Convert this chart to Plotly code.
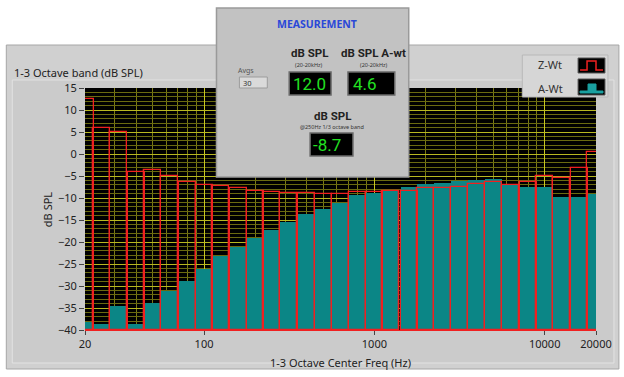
import math
import plotly.graph_objects as go

# ---------------- data ----------------
freqs = [20, 25, 31.5, 40, 50, 63, 80, 100, 125, 160, 200, 250, 315, 400, 500,
         630, 800, 1000, 1250, 1600, 2000, 2500, 3150, 4000, 5000, 6300, 8000,
         10000, 12500, 16000, 20000]
z_wt = [12.6, 5.9, 5.0, -4.2, -3.7, -5.1, -6.4, -7.1, -7.3, -7.8, -8.4, -8.7,
        -8.9, -8.9, -9.0, -9.1, -8.7, -8.7, -8.5, -8.3, -7.7, -7.7, -7.4, -6.8,
        -6.4, -7.0, -6.4, -5.1, -5.5, -3.2, 0.5]
a_wt = [-38.1, -38.7, -34.5, -38.7, -33.8, -31.1, -28.9, -26.1, -23.2, -21.2,
        -19.1, -17.3, -15.5, -13.6, -12.4, -11.1, -9.4, -8.9, -8.2, -7.4, -6.8,
        -6.6, -6.2, -6.0, -5.7, -6.8, -7.5, -7.5, -9.8, -9.8, -9.0]
tick_freqs = [20, 100, 1000, 10000, 20000]
tick_labels = ["20", "100", "1000", "10000", "20000"]
y_ticks = [15, 10, 5, 0, -5, -10, -15, -20, -25, -30, -35, -40]
meas_spl = "12.0"
meas_awt = "4.6"
meas_250 = "-8.7"

Y_MIN, Y_MAX = -40, 15
F_MIN, F_MAX = 20, 20000

# ---------------- geometry (pixels) ----------------
W, H = 624, 377
L, R, T, B = 85, 598, 88, 330


def px(x):
    return (x - L) / (R - L)


def py(y):
    return (B - y) / (B - T)


xs = [math.log10(f) for f in freqs]
band_w = math.log10(2) / 3
minor_freqs = [m * d for d in (10, 100, 1000) for m in range(2, 10) if m * d > 20]

TEAL = "#0b8686"
RED = "#f02020"

fig = go.Figure()
fig.add_trace(go.Bar(
    x=xs, y=[v - Y_MIN for v in a_wt], base=Y_MIN, width=band_w,
    marker=dict(color=TEAL, line=dict(width=0)), name="A-Wt",
    customdata=a_wt, hovertemplate="%{customdata} dB<extra>A-Wt</extra>",
))
fig.add_trace(go.Bar(
    x=xs, y=[v - Y_MIN for v in z_wt], base=Y_MIN, width=band_w,
    marker=dict(color="rgba(0,0,0,0)", line=dict(width=1.3, color=RED)), name="Z-Wt",
    customdata=z_wt, hovertemplate="%{customdata} dB<extra>Z-Wt</extra>",
))

FONT = "Noto Sans"
BFONT = "Roboto"
TXT = "#222222"

shapes = []
# graph panel
shapes.append(dict(type="rect", xref="paper", yref="paper", layer="below",
                   x0=px(6), x1=px(621), y0=py(369), y1=py(45),
                   fillcolor="#d0d0d0", line=dict(color="#a6a6a6", width=1)))
shapes.append(dict(type="rect", xref="paper", yref="paper", layer="below",
                   x0=px(12), x1=px(616), y0=py(363), y1=py(80),
                   fillcolor="#cbcbcb", line=dict(color="#e2e2e2", width=1)))
# black plot background
shapes.append(dict(type="rect", xref="x domain", yref="y domain", layer="below",
                   x0=0, x1=1, y0=0, y1=1, fillcolor="black", line=dict(width=0)))
# legend
shapes.append(dict(type="rect", xref="paper", yref="paper", layer="above",
                   x0=px(524), x1=px(610), y0=py(97), y1=py(55),
                   fillcolor="#d6d6d6", line=dict(color="#b8b8b8", width=1)))
shapes.append(dict(type="rect", xref="paper", yref="paper", layer="above",
                   x0=px(580), x1=px(607), y0=py(73), y1=py(58),
                   fillcolor="black", line=dict(color="#555555", width=1)))
shapes.append(dict(type="rect", xref="paper", yref="paper", layer="above",
                   x0=px(580), x1=px(607), y0=py(95), y1=py(79),
                   fillcolor="black", line=dict(color="#555555", width=1)))


def path(points, close=False):
    s = "M " + " L ".join(f"{px(a):.5f},{py(b):.5f}" for a, b in points)
    return s + (" Z" if close else "")


shapes.append(dict(type="path", xref="paper", yref="paper", layer="above",
                   path=path([(582, 70), (589, 70), (589, 61), (598, 61), (598, 70), (605, 70)]),
                   line=dict(color=RED, width=1.5)))
shapes.append(dict(type="path", xref="paper", yref="paper", layer="above",
                   path=path([(582, 93), (605, 93), (605, 91), (598, 91), (598, 84),
                              (590, 84), (590, 91), (582, 91)], close=True),
                   fillcolor="#1aa0a0", line=dict(color="#1aa0a0", width=1)))
# measurement panel
shapes.append(dict(type="rect", xref="paper", yref="paper", layer="above",
                   x0=px(217), x1=px(410), y0=py(177), y1=py(8),
                   fillcolor="#c2c2c2", line=dict(color="#9a9a9a", width=1.5)))
shapes.append(dict(type="rect", xref="paper", yref="paper", layer="above",
                   x0=px(240), x1=px(268), y0=py(88), y1=py(77),
                   fillcolor="#dadada", line=dict(color="#9c9c9c", width=1)))
for (a, b, c, d) in [(290, 72, 332, 95), (349, 72, 396, 95), (311, 133, 354, 156)]:
    shapes.append(dict(type="rect", xref="paper", yref="paper", layer="above",
                       x0=px(a), x1=px(c), y0=py(d), y1=py(b),
                       fillcolor="black", line=dict(color="#6a6a6a", width=1.5)))

ann = []


def text(x, y, s, size=12, color=TXT, xanchor="center", bold=False, angle=0, family=FONT):
    ann.append(dict(xref="paper", yref="paper", x=px(x), y=py(y), text=(f"<b>{s}</b>" if bold else s),
                    showarrow=False, xanchor=xanchor, yanchor="middle", textangle=angle,
                    font=dict(family=family, size=size, color=color)))


text(12, 72, "1-3 Octave band (dB SPL)", 11, xanchor="left")
text(47, 210, "dB SPL", 11, angle=-90)
text(341, 362, "1-3 Octave Center Freq (Hz)", 11)
text(552, 64, "Z-Wt", 11, "#333333")
text(552, 88, "A-Wt", 11, "#333333")
text(318, 24, "MEASUREMENT", 10.5, "#2a48d8", bold=True)
text(247, 71, "Avgs", 7, "#555555")
text(242, 82.5, "30", 7.5, "#333333", xanchor="left")
text(310, 53, "dB SPL", 11.5, bold=True, family=BFONT)
text(310, 65, "(20-20kHz)", 5.5, "#333333")
text(375, 53, "dB SPL A-wt", 11.5, bold=True, family=BFONT)
text(375, 65, "(20-20kHz)", 5.5, "#333333")
text(333, 116, "dB SPL", 11.5, bold=True, family=BFONT)
text(333, 127, "@250Hz 1/3 octave band", 5.5, "#333333")
text(292, 84, meas_spl, 17, "#22e022", xanchor="left", family=BFONT)
text(352, 84, meas_awt, 17, "#22e022", xanchor="left", family=BFONT)
text(312, 145, meas_250, 17, "#22e022", xanchor="left", family=BFONT)

fig.update_layout(
    width=W, height=H,
    margin=dict(l=L, r=W - R, t=T, b=H - B, pad=0),
    paper_bgcolor="white", plot_bgcolor="black",
    barmode="overlay", bargap=0, showlegend=False,
    shapes=shapes, annotations=ann,
    font=dict(family=FONT, size=11, color=TXT),
)
fig.update_xaxes(
    range=[math.log10(F_MIN), math.log10(F_MAX)],
    tickvals=[math.log10(f) for f in tick_freqs], ticktext=tick_labels,
    ticks="outside", ticklen=4, tickcolor="#444444", tickfont=dict(size=11, color=TXT),
    showgrid=True, gridcolor="#c8c820", gridwidth=1, zeroline=False,
    showline=True, linecolor=RED, linewidth=1,
    minor=dict(tickvals=[math.log10(f) for f in minor_freqs], showgrid=True,
               gridcolor="#7a7a14", gridwidth=1, ticks=""),
)
fig.update_yaxes(
    range=[Y_MIN, Y_MAX], tickvals=y_ticks,
    ticks="outside", ticklen=5, tickcolor="#444444", tickfont=dict(size=11, color=TXT),
    showgrid=True, gridcolor="#b8b820", gridwidth=1, zeroline=False, showline=False,
    minor=dict(dtick=1, showgrid=True, gridcolor="#6a6a10", gridwidth=1, ticks=""),
)

fig.write_html("out.html", config={"displayModeBar": False},
               post_script="document.body.style.margin='0';document.body.style.padding='0';")
